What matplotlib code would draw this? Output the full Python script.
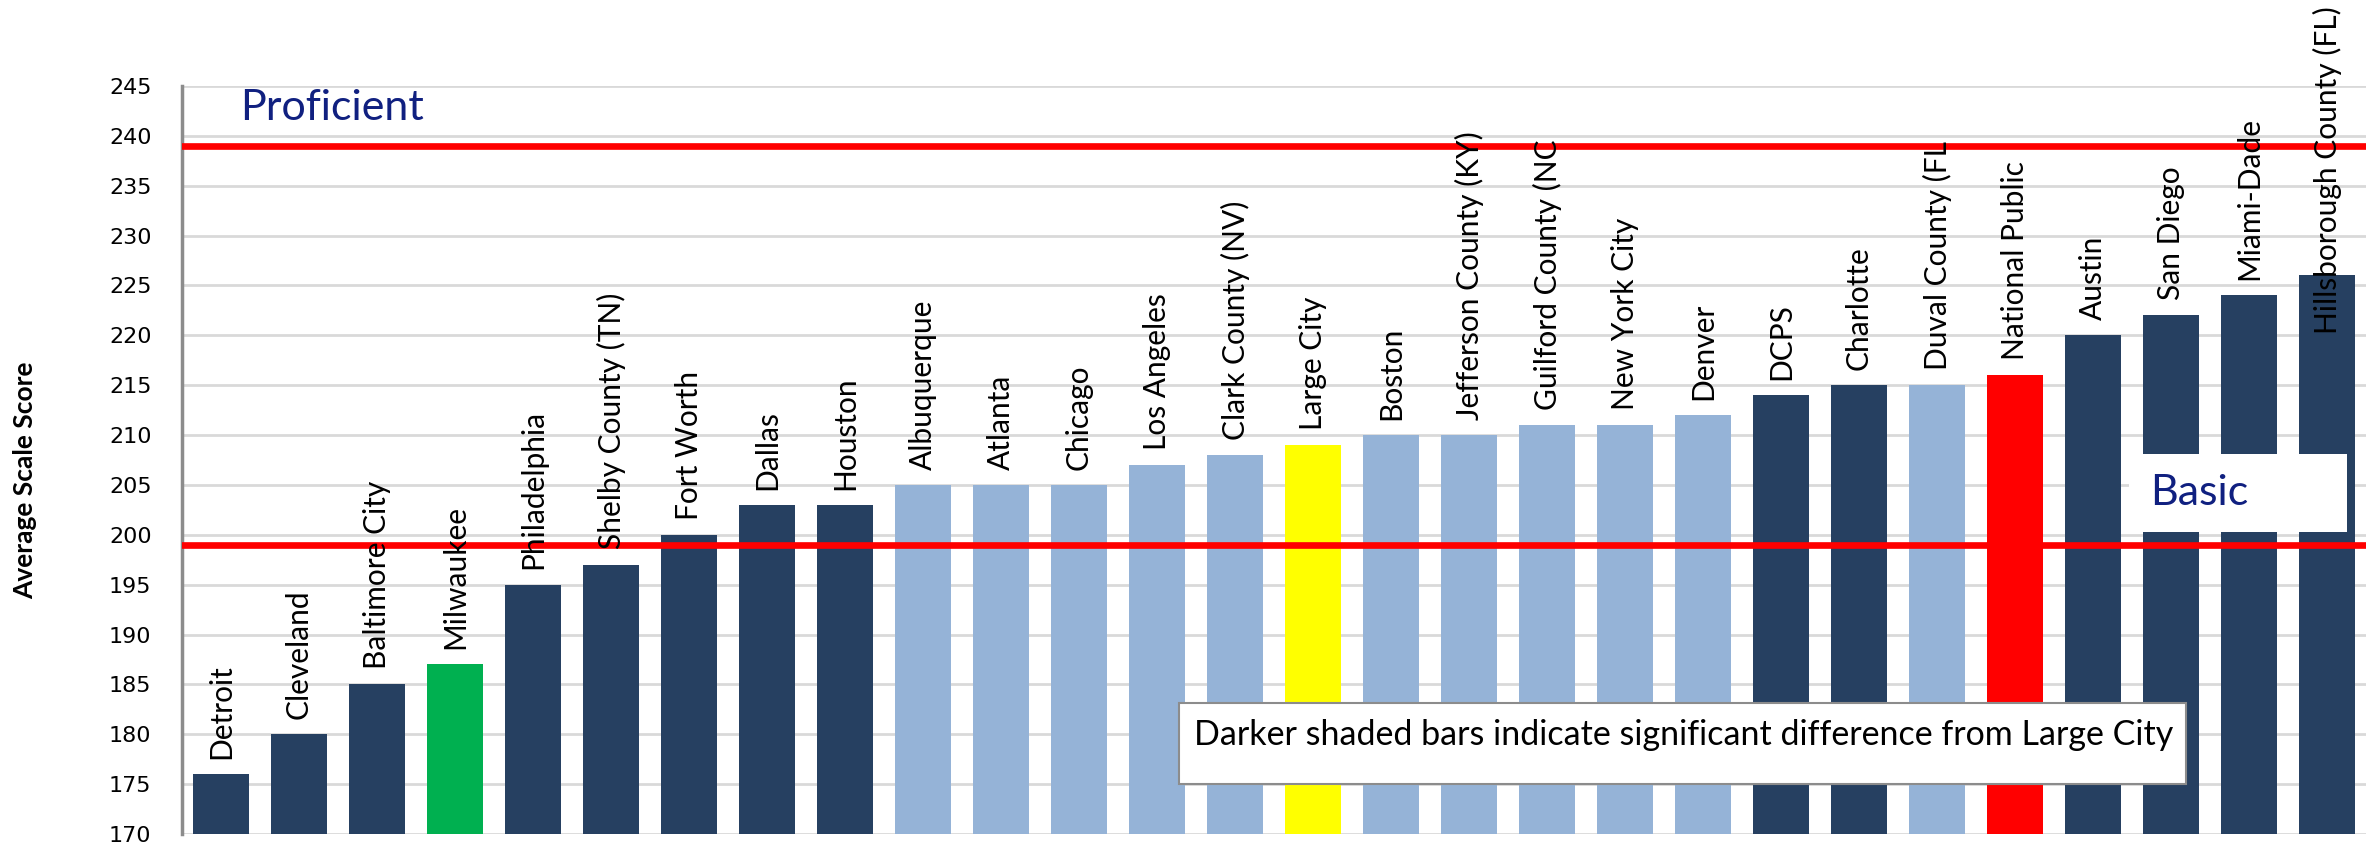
import matplotlib
matplotlib.use("Agg")
import matplotlib.pyplot as plt
from matplotlib.patches import Rectangle

districts = ["Detroit", "Cleveland", "Baltimore City", "Milwaukee", "Philadelphia",
             "Shelby County (TN)", "Fort Worth", "Dallas", "Houston", "Albuquerque",
             "Atlanta", "Chicago", "Los Angeles", "Clark County (NV)", "Large City",
             "Boston", "Jefferson County (KY)", "Guilford County (NC", "New York City",
             "Denver", "DCPS", "Charlotte", "Duval County (FL", "National Public",
             "Austin", "San Diego", "Miami-Dade", "Hillsborough County (FL)"]
scores = [176, 180, 185, 187, 195, 197, 200, 203, 203, 205, 205, 205, 207, 208, 209,
          210, 210, 211, 211, 212, 214, 215, 215, 216, 220, 222, 224, 226]
# d = significant difference (dark), n = not significant, plus highlighted bars
shading = ["d", "d", "d", "mil", "d", "d", "d", "d", "d", "n", "n", "n", "n", "n", "lc",
           "n", "n", "n", "n", "n", "d", "d", "n", "np", "d", "d", "d", "d"]
proficient_cut = 239
basic_cut = 199

palette = {"d": "#264061", "n": "#95B3D7", "mil": "#00B050", "lc": "#FFFF00", "np": "#FF0000"}
colors = [palette[s] for s in shading]

fig = plt.figure(figsize=(23.77, 8.47), dpi=100)
ax = fig.add_axes([0.0766, 0.0153, 0.9188, 0.8832])

x = range(len(districts))
ax.bar(x, scores, width=0.72, color=colors, zorder=2)
ax.set_xlim(-0.5, len(districts) - 0.5)
ax.set_ylim(170, 245)
ax.set_yticks(range(170, 246, 5))
ax.set_xticks([])
ax.tick_params(axis="y", length=0, pad=22, labelsize=16)
ax.grid(axis="y", color="#D9D9D9", linewidth=2, zorder=0)
for side in ["top", "right", "bottom"]:
    ax.spines[side].set_visible(False)
ax.spines["left"].set_color("#8C8C8C")
ax.spines["left"].set_linewidth(2.5)

ax.axhline(proficient_cut, color="#FF0000", linewidth=4.8, zorder=3)
ax.axhline(basic_cut, color="#FF0000", linewidth=4.8, zorder=3)

# bar labels above each bar
for i, (name, val) in enumerate(zip(districts, scores)):
    off = 11
    if i == len(districts) - 1:
        off = -42  # pushed down to stay inside the picture
    ax.annotate(name, (i, val), xytext=(0, off), textcoords="offset points",
                rotation=90, ha="center", va="bottom", fontsize=21.5,
                family="Lato", zorder=4, annotation_clip=False)

ax.text(0.0266, 0.9706, "Proficient", transform=ax.transAxes, fontsize=31,
        family="Lato", color="#102080", va="center", ha="left")

ax.add_patch(Rectangle((0.8915, 0.404), 0.0998, 0.104, transform=ax.transAxes,
                       facecolor="white", edgecolor="none", zorder=5))
ax.text(0.901, 0.4555, "Basic", transform=ax.transAxes, fontsize=31,
        family="Lato", color="#102080", va="center", ha="left", zorder=6)

# note box
fig.patches.append(Rectangle((1179 / 2377, 1 - 784 / 847), 1007 / 2377, 81 / 847,
                             transform=fig.transFigure, facecolor="white",
                             edgecolor="#8C8C8C", linewidth=1.5, zorder=5))
fig.text(1684 / 2377, 1 - 735 / 847,
         "Darker shaded bars indicate significant difference from Large City",
         fontsize=24.5, family="Lato", ha="center", va="center", zorder=6)

fig.text(25 / 2377, 1 - 480 / 847, "Average Scale Score", rotation=90,
         fontsize=19, fontweight="bold", family="Lato", ha="center", va="center")

fig.savefig("out.png", dpi=100)
